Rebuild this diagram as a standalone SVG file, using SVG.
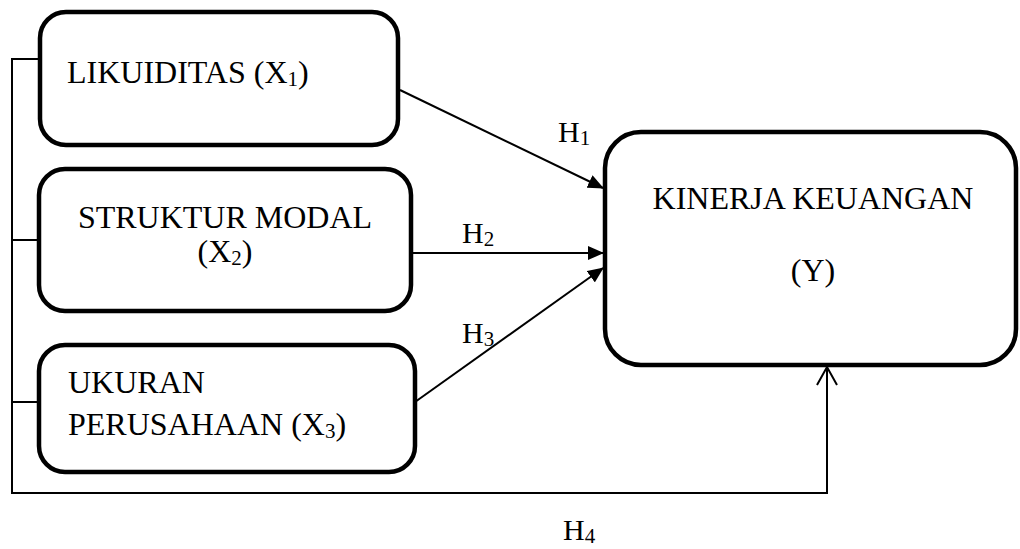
<svg xmlns="http://www.w3.org/2000/svg" width="1020" height="549" viewBox="0 0 1020 549">
  <style>
    .box { fill: #ffffff; stroke: #000000; stroke-width: 4.5; }
    .line { fill: none; stroke: #000000; stroke-width: 2; }
    .txt { font-family: "Liberation Serif", "DejaVu Serif", serif; font-size: 32px; fill: #000000; }
    .hl { font-size: 30px; }
    .sub { font-size: 21px; }
  </style>
  <defs>
    <marker id="arrow" markerUnits="userSpaceOnUse" markerWidth="16" markerHeight="14" refX="15" refY="7" orient="auto">
      <path d="M0,0 L16,7 L0,14 Z" fill="#000000"/>
    </marker>
  </defs>
  <rect width="1020" height="549" fill="#ffffff"/>

  <!-- connectors -->
  <g id="connectors">
    <!-- left bracket joining the three independent variables -->
    <polyline class="line" points="38,59 12,59 12,493 827,493 827,367"/>
    <line class="line" x1="12" y1="240" x2="38" y2="240"/>
    <line class="line" x1="12" y1="402" x2="38" y2="402"/>
    <!-- open arrowhead into Y from below -->
    <polyline class="line" points="817,385 827,367 837,385"/>
    <!-- H1..H3 -->
    <line class="line" x1="400" y1="90" x2="603" y2="188" marker-end="url(#arrow)"/>
    <line class="line" x1="413" y1="253" x2="603" y2="253" marker-end="url(#arrow)"/>
    <line class="line" x1="415" y1="402" x2="603" y2="268" marker-end="url(#arrow)"/>
    <!-- hypothesis labels -->
    <text class="txt hl" x="558" y="142">H<tspan class="sub" dy="3">1</tspan></text>
    <text class="txt hl" x="462" y="243">H<tspan class="sub" dy="3">2</tspan></text>
    <text class="txt hl" x="462" y="343">H<tspan class="sub" dy="3">3</tspan></text>
    <text class="txt hl" x="563" y="540">H<tspan class="sub" dy="3">4</tspan></text>
  </g>

  <g id="likuiditas">
    <rect class="box" x="40" y="12" width="358" height="133" rx="26"/>
    <text class="txt" x="67" y="83">LIKUIDITAS (X<tspan class="sub" dy="3">1</tspan><tspan dy="-3">)</tspan></text>
  </g>

  <g id="struktur-modal">
    <rect class="box" x="39" y="169" width="372" height="142" rx="26"/>
    <text class="txt" x="225" y="228" text-anchor="middle">STRUKTUR MODAL</text>
    <text class="txt" x="225" y="262" text-anchor="middle">(X<tspan class="sub" dy="3">2</tspan><tspan dy="-3">)</tspan></text>
  </g>

  <g id="ukuran-perusahaan">
    <rect class="box" x="39" y="345" width="376" height="127" rx="26"/>
    <text class="txt" x="68" y="393">UKURAN</text>
    <text class="txt" x="68" y="435">PERUSAHAAN (X<tspan class="sub" dy="3">3</tspan><tspan dy="-3">)</tspan></text>
  </g>

  <g id="kinerja-keuangan">
    <rect class="box" x="605" y="132" width="411" height="233" rx="36"/>
    <text class="txt" x="813" y="209" text-anchor="middle">KINERJA KEUANGAN</text>
    <text class="txt" x="813" y="281" text-anchor="middle">(Y)</text>
  </g>
</svg>
